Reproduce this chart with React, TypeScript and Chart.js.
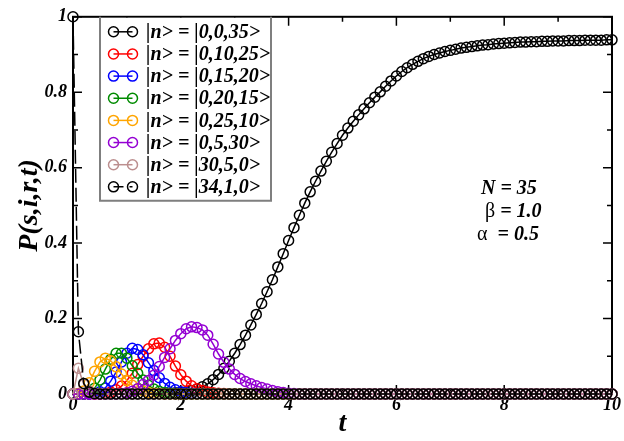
import React, { useEffect, useRef } from "react";
import { Chart, registerables } from "chart.js";

Chart.register(...registerables);

// time grid (t)
const T = [
  0, 0.1, 0.2, 0.3, 0.4, 0.5, 0.6, 0.7, 0.8, 0.9,
  1, 1.1, 1.2, 1.3, 1.4, 1.5, 1.6, 1.7, 1.8, 1.9,
  2, 2.1, 2.2, 2.3, 2.4, 2.5, 2.6, 2.7, 2.8, 2.9,
  3, 3.1, 3.2, 3.3, 3.4, 3.5, 3.6, 3.7, 3.8, 3.9,
  4, 4.1, 4.2, 4.3, 4.4, 4.5, 4.6, 4.7, 4.8, 4.9,
  5, 5.1, 5.2, 5.3, 5.4, 5.5, 5.6, 5.7, 5.8, 5.9,
  6, 6.1, 6.2, 6.3, 6.4, 6.5, 6.6, 6.7, 6.8, 6.9,
  7, 7.1, 7.2, 7.3, 7.4, 7.5, 7.6, 7.7, 7.8, 7.9,
  8, 8.1, 8.2, 8.3, 8.4, 8.5, 8.6, 8.7, 8.8, 8.9,
  9, 9.1, 9.2, 9.3, 9.4, 9.5, 9.6, 9.7, 9.8, 9.9,
  10,
];

// |n> = |0,0,35>
const P_0_0_35 = [
  0, 0, 0, 0, 0, 0, 0, 0, 0, 0,
  0, 0, 0, 0, 0, 0, 0.001, 0.001, 0.002, 0.003,
  0.004, 0.006, 0.009, 0.013, 0.019, 0.027, 0.038, 0.052, 0.068, 0.087,
  0.108, 0.131, 0.156, 0.183, 0.211, 0.24, 0.271, 0.303, 0.337, 0.372,
  0.407, 0.441, 0.474, 0.506, 0.536, 0.564, 0.591, 0.617, 0.641, 0.664,
  0.686, 0.705, 0.723, 0.74, 0.756, 0.772, 0.787, 0.801, 0.816, 0.83,
  0.843, 0.855, 0.865, 0.874, 0.882, 0.889, 0.895, 0.9, 0.904, 0.908,
  0.911, 0.914, 0.917, 0.919, 0.921, 0.923, 0.925, 0.926, 0.928, 0.929,
  0.93, 0.931, 0.932, 0.933, 0.933, 0.934, 0.934, 0.935, 0.935, 0.936,
  0.936, 0.936, 0.937, 0.937, 0.937, 0.938, 0.938, 0.938, 0.938, 0.939,
  0.939,
];

// |n> = |0,10,25>
const P_0_10_25 = [
  0, 0, 0, 0, 0, 0, 0.002, 0.005, 0.011, 0.021,
  0.036, 0.055, 0.078, 0.1, 0.12, 0.133, 0.135, 0.124, 0.1, 0.074,
  0.051, 0.034, 0.022, 0.014, 0.009, 0.005, 0.003, 0.002, 0.001, 0,
  0, 0, 0, 0, 0, 0, 0, 0, 0, 0,
  0, 0, 0, 0, 0, 0, 0, 0, 0, 0,
  0, 0, 0, 0, 0, 0, 0, 0, 0, 0,
  0, 0, 0, 0, 0, 0, 0, 0, 0, 0,
  0, 0, 0, 0, 0, 0, 0, 0, 0, 0,
  0, 0, 0, 0, 0, 0, 0, 0, 0, 0,
  0, 0, 0, 0, 0, 0, 0, 0, 0, 0,
  0,
];

// |n> = |0,15,20>
const P_0_15_20 = [
  0, 0, 0, 0, 0.002, 0.006, 0.016, 0.034, 0.058, 0.085,
  0.108, 0.121, 0.118, 0.104, 0.083, 0.062, 0.043, 0.028, 0.018, 0.011,
  0.006, 0.003, 0.002, 0.001, 0, 0, 0, 0, 0, 0,
  0, 0, 0, 0, 0, 0, 0, 0, 0, 0,
  0, 0, 0, 0, 0, 0, 0, 0, 0, 0,
  0, 0, 0, 0, 0, 0, 0, 0, 0, 0,
  0, 0, 0, 0, 0, 0, 0, 0, 0, 0,
  0, 0, 0, 0, 0, 0, 0, 0, 0, 0,
  0, 0, 0, 0, 0, 0, 0, 0, 0, 0,
  0, 0, 0, 0, 0, 0, 0, 0, 0, 0,
  0,
];

// |n> = |0,20,15>
const P_0_20_15 = [
  0, 0, 0, 0.004, 0.015, 0.037, 0.066, 0.092, 0.108, 0.108,
  0.095, 0.075, 0.055, 0.037, 0.023, 0.013, 0.007, 0.004, 0.002, 0.001,
  0, 0, 0, 0, 0, 0, 0, 0, 0, 0,
  0, 0, 0, 0, 0, 0, 0, 0, 0, 0,
  0, 0, 0, 0, 0, 0, 0, 0, 0, 0,
  0, 0, 0, 0, 0, 0, 0, 0, 0, 0,
  0, 0, 0, 0, 0, 0, 0, 0, 0, 0,
  0, 0, 0, 0, 0, 0, 0, 0, 0, 0,
  0, 0, 0, 0, 0, 0, 0, 0, 0, 0,
  0, 0, 0, 0, 0, 0, 0, 0, 0, 0,
  0,
];

// |n> = |0,25,10>
const P_0_25_10 = [
  0, 0.001, 0.008, 0.03, 0.06, 0.085, 0.095, 0.088, 0.072, 0.053,
  0.036, 0.023, 0.014, 0.008, 0.004, 0.002, 0.001, 0, 0, 0,
  0, 0, 0, 0, 0, 0, 0, 0, 0, 0,
  0, 0, 0, 0, 0, 0, 0, 0, 0, 0,
  0, 0, 0, 0, 0, 0, 0, 0, 0, 0,
  0, 0, 0, 0, 0, 0, 0, 0, 0, 0,
  0, 0, 0, 0, 0, 0, 0, 0, 0, 0,
  0, 0, 0, 0, 0, 0, 0, 0, 0, 0,
  0, 0, 0, 0, 0, 0, 0, 0, 0, 0,
  0, 0, 0, 0, 0, 0, 0, 0, 0, 0,
  0,
];

// |n> = |0,5,30>
const P_0_5_30 = [
  0, 0, 0, 0, 0, 0, 0, 0, 0, 0.001,
  0.003, 0.007, 0.014, 0.025, 0.036, 0.05, 0.073, 0.097, 0.12, 0.142,
  0.16, 0.173, 0.178, 0.176, 0.17, 0.156, 0.132, 0.106, 0.084, 0.066,
  0.052, 0.041, 0.033, 0.027, 0.022, 0.017, 0.013, 0.009, 0.006, 0.004,
  0.002, 0.001, 0, 0, 0, 0, 0, 0, 0, 0,
  0, 0, 0, 0, 0, 0, 0, 0, 0, 0,
  0, 0, 0, 0, 0, 0, 0, 0, 0, 0,
  0, 0, 0, 0, 0, 0, 0, 0, 0, 0,
  0, 0, 0, 0, 0, 0, 0, 0, 0, 0,
  0, 0, 0, 0, 0, 0, 0, 0, 0, 0,
  0,
];

// |n> = |30,5,0>
const P_30_5_0 = [
  0, 0.068, 0.025, 0.008, 0.002, 0.001, 0, 0, 0, 0,
  0, 0, 0, 0, 0, 0, 0, 0, 0, 0,
  0, 0, 0, 0, 0, 0, 0, 0, 0, 0,
  0, 0, 0, 0, 0, 0, 0, 0, 0, 0,
  0, 0, 0, 0, 0, 0, 0, 0, 0, 0,
  0, 0, 0, 0, 0, 0, 0, 0, 0, 0,
  0, 0, 0, 0, 0, 0, 0, 0, 0, 0,
  0, 0, 0, 0, 0, 0, 0, 0, 0, 0,
  0, 0, 0, 0, 0, 0, 0, 0, 0, 0,
  0, 0, 0, 0, 0, 0, 0, 0, 0, 0,
  0,
];

// |n> = |34,1,0>
const P_34_1_0 = [
  1, 0.165, 0.028, 0.005, 0.001, 0, 0, 0, 0, 0,
  0, 0, 0, 0, 0, 0, 0, 0, 0, 0,
  0, 0, 0, 0, 0, 0, 0, 0, 0, 0,
  0, 0, 0, 0, 0, 0, 0, 0, 0, 0,
  0, 0, 0, 0, 0, 0, 0, 0, 0, 0,
  0, 0, 0, 0, 0, 0, 0, 0, 0, 0,
  0, 0, 0, 0, 0, 0, 0, 0, 0, 0,
  0, 0, 0, 0, 0, 0, 0, 0, 0, 0,
  0, 0, 0, 0, 0, 0, 0, 0, 0, 0,
  0, 0, 0, 0, 0, 0, 0, 0, 0, 0,
  0,
];

const SERIES_LABELS = [
  "|n> = |0,0,35>",
  "|n> = |0,10,25>",
  "|n> = |0,15,20>",
  "|n> = |0,20,15>",
  "|n> = |0,25,10>",
  "|n> = |0,5,30>",
  "|n> = |30,5,0>",
  "|n> = |34,1,0>",
];
const SERIES_VALUES = [
  P_0_0_35, P_0_10_25, P_0_15_20, P_0_20_15, P_0_25_10, P_0_5_30, P_30_5_0, P_34_1_0,
];
const SERIES_COLORS = [
  "#000000", "#ff0000", "#0000ff", "#008b00", "#ffa500", "#9400d3", "#bc8f8f", "#000000",
];
const SERIES_DASHED = [false, false, false, false, false, false, false, true];

const X_MIN = 0;
const X_MAX = 10;
const X_STEP = 2;
const Y_MIN = 0;
const Y_MAX = 1;
const Y_STEP = 0.2;

const PARAM_LINES = [
  { sym: "", text: "N = 35" },
  { sym: "β", text: " = 1.0" },
  { sym: "α", text: "  = 0.5" },
];

const SERIF = "'Liberation Serif', 'Times New Roman', 'DejaVu Serif', serif";
const BI = (size: number) => `italic bold ${size}px ${SERIF}`;
const DASH = [14, 5];
const LEGEND_DASH = [10, 6];

const framePlugin = {
  id: "frameTicks",
  beforeDatasetsDraw(chart: any) {
    const { ctx, chartArea: a, scales } = chart;
    const x = scales.x;
    const y = scales.y;
    ctx.save();
    ctx.strokeStyle = "#000";
    ctx.lineWidth = 1.5;
    ctx.beginPath();
    for (let i = 0; i <= 10; i++) {
      const px = x.getPixelForValue(X_MIN + ((X_MAX - X_MIN) * i) / 10);
      const len = i % 2 === 0 ? 9 : 5;
      ctx.moveTo(px, a.bottom);
      ctx.lineTo(px, a.bottom - len);
      ctx.moveTo(px, a.top);
      ctx.lineTo(px, a.top + len);
    }
    for (let i = 0; i <= 10; i++) {
      const py = y.getPixelForValue(Y_MIN + ((Y_MAX - Y_MIN) * i) / 10);
      const len = i % 2 === 0 ? 9 : 5;
      ctx.moveTo(a.left, py);
      ctx.lineTo(a.left + len, py);
      ctx.moveTo(a.right, py);
      ctx.lineTo(a.right - len, py);
    }
    ctx.stroke();
    ctx.lineWidth = 2;
    ctx.strokeRect(a.left, a.top, a.right - a.left, a.bottom - a.top);
    ctx.restore();
  },
};

const overlayPlugin = {
  id: "legendOverlay",
  afterDraw(chart: any) {
    const { ctx, chartArea: a } = chart;
    ctx.save();
    // legend box
    const bx0 = a.left + 27;
    const bx1 = a.left + 198;
    const by1 = a.top + 184;
    ctx.fillStyle = "#ffffff";
    ctx.fillRect(bx0, a.top + 1, bx1 - bx0, by1 - a.top - 1);
    ctx.strokeStyle = "#7f7f7f";
    ctx.lineWidth = 2;
    ctx.beginPath();
    ctx.moveTo(bx0, a.top);
    ctx.lineTo(bx0, by1);
    ctx.lineTo(bx1, by1);
    ctx.lineTo(bx1, a.top);
    ctx.stroke();

    const rowY0 = a.top + 15;
    const rowStep = 22.15;
    const c1 = bx0 + 13.5;
    const c2 = bx0 + 32.5;
    chart.data.datasets.forEach((ds: any, i: number) => {
      const yy = rowY0 + rowStep * i;
      ctx.strokeStyle = ds.borderColor;
      ctx.lineWidth = 1.5;
      ctx.setLineDash(SERIES_DASHED[i] ? LEGEND_DASH : []);
      ctx.beginPath();
      ctx.moveTo(c1, yy);
      ctx.lineTo(c2, yy);
      ctx.stroke();
      ctx.setLineDash([]);
      for (const cx of [c1, c2]) {
        ctx.beginPath();
        ctx.arc(cx, yy, 5, 0, Math.PI * 2);
        ctx.stroke();
      }
      ctx.fillStyle = "#000";
      ctx.font = BI(20);
      ctx.textAlign = "left";
      ctx.textBaseline = "middle";
      ctx.fillText(ds.label, bx0 + 46, yy + 1);
    });

    // parameter annotation
    const ax = [408, 412, 404];
    const ay = [172, 195, 218];
    PARAM_LINES.forEach((p, i) => {
      let xx = a.left + ax[i];
      const yy = a.top + ay[i];
      ctx.fillStyle = "#000";
      ctx.textAlign = "left";
      ctx.textBaseline = "middle";
      if (p.sym) {
        ctx.font = `normal 20px ${SERIF}`;
        ctx.fillText(p.sym, xx, yy);
        xx += ctx.measureText(p.sym).width;
      }
      ctx.font = BI(20);
      ctx.fillText(p.text, xx, yy);
    });
    ctx.restore();
  },
};

export default function App() {
  const ref = useRef<HTMLCanvasElement | null>(null);

  useEffect(() => {
    if (!ref.current) return;
    const datasets = SERIES_LABELS.map((label, i) => ({
      label,
      data: T.map((t, k) => ({ x: t, y: SERIES_VALUES[i][k] })),
      borderColor: SERIES_COLORS[i],
      backgroundColor: "rgba(0,0,0,0)",
      pointBorderColor: SERIES_COLORS[i],
      pointBackgroundColor: "rgba(0,0,0,0)",
      pointRadius: 5,
      pointBorderWidth: 1.5,
      borderWidth: 1.5,
      borderDash: SERIES_DASHED[i] ? DASH : [],
      tension: 0,
      fill: false,
      clip: false as any,
      order: -i,
    }));

    const chart = new Chart(ref.current, {
      type: "line",
      data: { datasets },
      options: {
        responsive: false,
        animation: false,
        events: [],
        layout: { padding: { top: 16, right: 12, left: 0, bottom: 0 } },
        plugins: {
          legend: { display: false },
          tooltip: { enabled: false },
        },
        scales: {
          x: {
            type: "linear",
            min: X_MIN,
            max: X_MAX,
            grid: { display: false, drawTicks: false },
            border: { display: false },
            ticks: {
              stepSize: X_STEP,
              padding: 1,
              color: "#000",
              font: { family: SERIF, size: 18, style: "italic", weight: "bold" },
              callback: (v: any) => `${Math.round(Number(v) * 10) / 10}`,
            },
            title: {
              display: true,
              text: "t",
              color: "#000",
              padding: { top: 0, bottom: 0 },
              font: { family: SERIF, size: 28, style: "italic", weight: "bold" },
            },
            afterFit: (s: any) => {
              s.height = 47;
            },
          },
          y: {
            type: "linear",
            min: Y_MIN,
            max: Y_MAX,
            grid: { display: false, drawTicks: false },
            border: { display: false },
            ticks: {
              stepSize: Y_STEP,
              padding: 6,
              color: "#000",
              font: { family: SERIF, size: 18, style: "italic", weight: "bold" },
              callback: (v: any) => `${Math.round(Number(v) * 10) / 10}`,
            },
            title: {
              display: true,
              text: "P(s,i,r,t)",
              color: "#000",
              padding: { top: 13, bottom: 0 },
              font: { family: SERIF, size: 28, style: "italic", weight: "bold" },
            },
            afterFit: (s: any) => {
              s.width = 73;
            },
          },
        },
      },
      plugins: [framePlugin, overlayPlugin],
    });
    return () => chart.destroy();
  }, []);

  return (
    <div style={{ position: "fixed", left: 0, top: 0, width: 624, height: 441, background: "#fff" }}>
      <canvas ref={ref} width={624} height={441} style={{ display: "block" }} />
    </div>
  );
}
